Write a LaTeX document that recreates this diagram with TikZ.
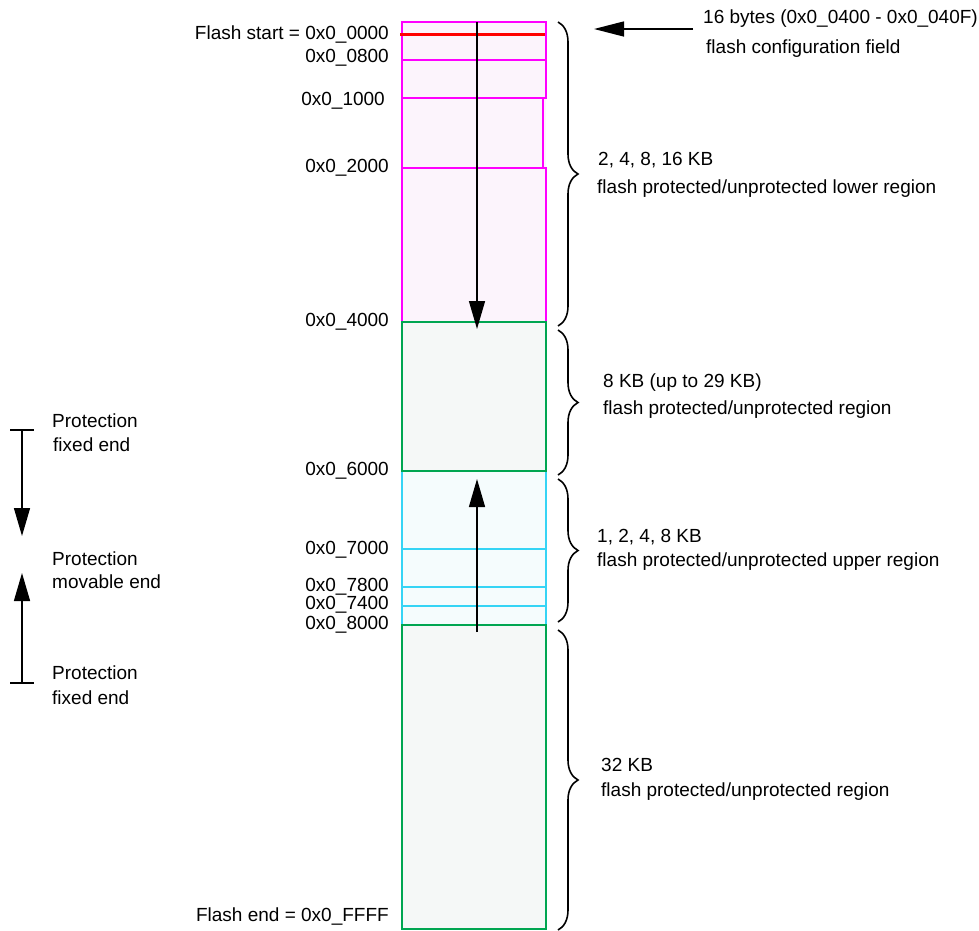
\documentclass[tikz,border=0pt]{standalone}
\usepackage{fontspec}
\setmainfont{Liberation Sans}
\usetikzlibrary{arrows.meta,decorations.pathreplacing}
\definecolor{mag}{HTML}{FF00FF}
\definecolor{magfill}{HTML}{FCF4FC}
\definecolor{grn}{HTML}{00A651}
\definecolor{grnfill}{HTML}{F5F8F7}
\definecolor{cyn}{HTML}{35D4F5}
\definecolor{cynfill}{HTML}{F5FCFD}
\tikzset{
  lbl/.style={inner sep=0pt, font=\fontsize{19}{22}\selectfont},
  addr/.style={lbl, anchor=east},
  txt/.style={lbl, anchor=west},
  bigarrow/.style={line width=1.4pt, -{Triangle[length=28pt,width=16pt]}},
  brc/.style={line width=1.6pt, decorate, decoration={brace, amplitude=20pt}},
  tbar/.style={line width=1.6pt},
}
\begin{document}
\begin{tikzpicture}[x=1pt,y=-1pt]
\useasboundingbox (0,0) rectangle (979,930);
% regions
\fill[magfill] (402,22) rectangle (546,322);
\fill[grnfill] (402,322) rectangle (546,471);
\fill[cynfill] (402,471) rectangle (546,625);
\fill[grnfill] (402,625) rectangle (546,929);
% magenta region
\draw[mag, line width=1.2pt] (402,98) rectangle (543,168);
\draw[mag, line width=2.5pt] (402,22) rectangle (546,98);
\draw[mag, line width=2.5pt] (402,60) -- (546,60);
\draw[mag, line width=2.5pt] (402,168) rectangle (546,322);
% cyan region
\draw[cyn, line width=2.3pt] (402,471) rectangle (546,625);
\draw[cyn, line width=2.3pt] (402,549) -- (546,549);
\draw[cyn, line width=2.3pt] (402,587) -- (546,587);
\draw[cyn, line width=2.3pt] (402,606) -- (546,606);
% green regions
\draw[grn, line width=2.3pt] (402,322) rectangle (546,471);
\draw[grn, line width=2.3pt] (402,625) rectangle (546,929);
% red line
\draw[red, line width=3pt] (400,34) -- (545,34);
% center arrows
\coordinate (dtop) at (477,22);
\coordinate (dtip) at (477,329);
\coordinate (ubot) at (477,632);
\coordinate (utip) at (477,479);
\draw[bigarrow] (dtop) -- (dtip);
\draw[bigarrow] (ubot) -- (utip);
% address labels
\node[addr] (a0)  at (389,34)  {Flash start = 0x0\_0000};
\node[addr] (a1)  at (389,58)  {0x0\_0800};
\node[addr] (a2)  at (385,101) {0x0\_1000};
\node[addr] (a3)  at (389,168) {0x0\_2000};
\node[addr] (a4)  at (389,322) {0x0\_4000};
\node[addr] (a5)  at (389,471) {0x0\_6000};
\node[addr] (a6)  at (389,550) {0x0\_7000};
\node[addr] (a7)  at (389,587) {0x0\_7800};
\node[addr] (a8)  at (389,605) {0x0\_7400};
\node[addr] (a9)  at (389,625) {0x0\_8000};
\node[addr] (a10) at (389,916) {Flash end = 0x0\_FFFF};
% braces
\draw[brc] (558,22) -- (558,326);
\draw[brc] (558,330) -- (558,475);
\draw[brc] (558,479) -- (558,622);
\draw[brc] (558,630) -- (558,930);
% right texts
\node[txt] (t1) at (703,19) {16 bytes (0x0\_0400 - 0x0\_040F)};
\node[txt] (t2) at (706,49) {flash configuration field};
\coordinate (cfgstart) at (693,29);
\coordinate (cfgtip) at (594,29);
\draw[line width=1.4pt, -{Triangle[length=30pt,width=15pt]}] (cfgstart) -- (cfgtip);
\node[txt] (t3) at (598,160) {2, 4, 8, 16 KB};
\node[txt] (t4) at (597,189) {flash protected/unprotected lower region};
\node[txt] (t5) at (603,383) {8 KB (up to 29 KB)};
\node[txt] (t6) at (603,410) {flash protected/unprotected region};
\node[txt] (t7) at (597,537) {1, 2, 4, 8 KB};
\node[txt] (t8) at (597,562) {flash protected/unprotected upper region};
\node[txt] (t9) at (601,765) {32 KB};
\node[txt] (t10) at (601,792) {flash protected/unprotected region};
% legend
\draw[tbar] (10,430) -- (34,430);
\draw[tbar] (10,683) -- (34,683);
\coordinate (ltop) at (22,430);
\coordinate (ltip1) at (22,536);
\coordinate (lbot) at (22,683);
\coordinate (ltip2) at (22,573);
\draw[bigarrow] (ltop) -- (ltip1);
\draw[bigarrow] (lbot) -- (ltip2);
\node[txt] (l1) at (52,421) {Protection};
\node[txt] (l2) at (53,445) {fixed end};
\node[txt] (l3) at (52,559) {Protection};
\node[txt] (l4) at (52,582) {movable end};
\node[txt] (l5) at (52,673) {Protection};
\node[txt] (l6) at (52,698) {fixed end};
\end{tikzpicture}
\end{document}
